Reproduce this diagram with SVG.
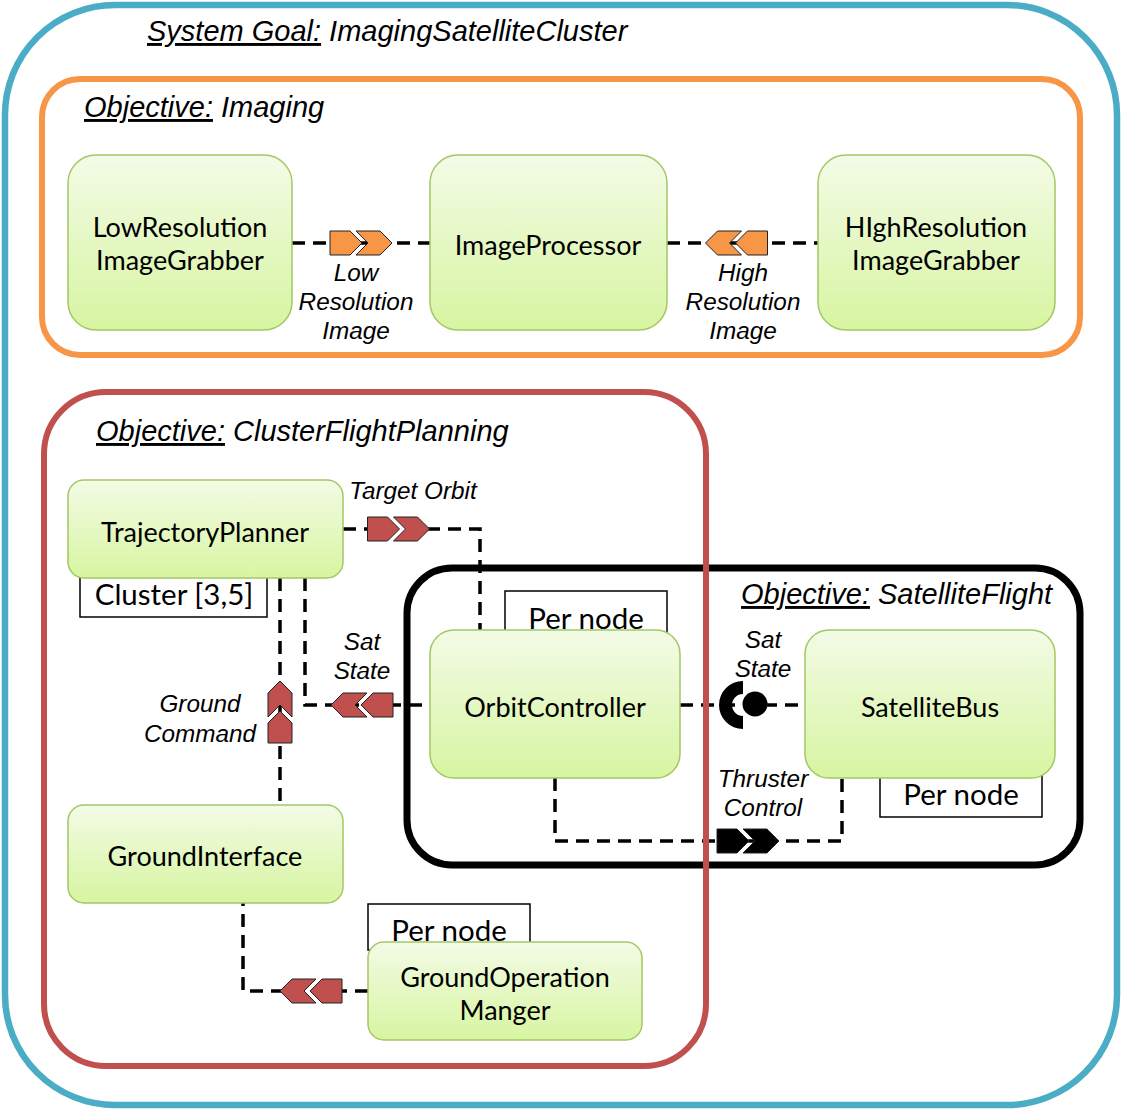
<svg xmlns="http://www.w3.org/2000/svg" xmlns:xlink="http://www.w3.org/1999/xlink" width="1123" height="1110" viewBox="0 0 1123 1110">
<style>
.box{fill:none}
.node rect{fill:url(#ng);stroke:#a3c865;stroke-width:1.5}
.nt{font-family:Lato,"Open Sans",sans-serif;font-size:27px;fill:#000;text-anchor:middle}
.title{font-family:"Liberation Sans",Arial,sans-serif;font-style:italic;font-size:29px;fill:#000}
.lbl{font-family:"Liberation Sans",Arial,sans-serif;font-style:italic;font-size:24.3px;fill:#000;text-anchor:middle}
.tag{fill:#fff;stroke:#000;stroke-width:1.5}
.tagt{font-family:Lato,"Open Sans",sans-serif;font-size:29.5px;fill:#000;text-anchor:middle}
.dash{fill:none;stroke:#000;stroke-width:3.5;stroke-dasharray:13 8}
.u{text-decoration:underline}
</style>
<defs>
<linearGradient id="ng" x1="0" y1="0" x2="0" y2="1">
<stop offset="0" stop-color="#f3fbe6"/>
<stop offset="1" stop-color="#d7f5a1"/>
</linearGradient>
<g id="chev" stroke="#222" stroke-width="1">
<path d="M-31,-12 H-11 L1,0 L-11,12 H-31 Z"/>
<path d="M-5,-12 H19 L31,0 L19,12 H-5 L7,0 Z"/>
</g>
</defs>
<rect width="1123" height="1110" fill="#fff"/>
<g id="goal-ImagingSatelliteCluster">
<rect class="box" x="5" y="5" width="1112" height="1100" rx="110" stroke="#4bacc6" stroke-width="6.5"/>
<text class="title" x="147" y="41"><tspan class="u">System Goal:</tspan> ImagingSatelliteCluster</text>
</g>
<g id="objective-Imaging">
<rect class="box" x="42" y="79" width="1038" height="276" rx="38" stroke="#f79646" stroke-width="6"/>
<text class="title" x="84" y="117"><tspan class="u">Objective:</tspan> Imaging</text>
</g>
<g id="objective-SatelliteFlight">
<rect class="box" x="407" y="568" width="673" height="297" rx="45" stroke="#000" stroke-width="7"/>
<text class="title" x="741" y="604"><tspan class="u">Objective:</tspan> SatelliteFlight</text>
</g>
<g id="connectors">
<path class="dash" d="M292,243 H430"/>
<use xlink:href="#chev" href="#chev" fill="#f79646" transform="translate(361,243)"/>
<text class="lbl" x="356" y="281">Low</text>
<text class="lbl" x="356" y="310">Resolution</text>
<text class="lbl" x="356" y="339">Image</text>

<path class="dash" d="M667,243 H818"/>
<use xlink:href="#chev" href="#chev" fill="#f79646" transform="translate(736.5,243) rotate(180)"/>
<text class="lbl" x="743" y="281">High</text>
<text class="lbl" x="743" y="310">Resolution</text>
<text class="lbl" x="743" y="339">Image</text>

<path class="dash" d="M343,529 H480 V630"/>
<use xlink:href="#chev" href="#chev" fill="#c0504d" transform="translate(398.5,529)"/>
<text class="lbl" x="413" y="499">Target Orbit</text>

<path class="dash" d="M305,578 V705 H430"/>
<use xlink:href="#chev" href="#chev" fill="#c0504d" transform="translate(362,705) rotate(180)"/>
<text class="lbl" x="362" y="650">Sat</text>
<text class="lbl" x="362" y="679">State</text>

<path class="dash" d="M280,578 V805"/>
<use xlink:href="#chev" href="#chev" fill="#c0504d" transform="translate(280,712) rotate(-90)"/>
<text class="lbl" x="200" y="712">Ground</text>
<text class="lbl" x="200" y="742">Command</text>

<path class="dash" d="M680,705 H805"/>
<path d="M743,681 A24,24 0 0 0 743,729 L743,716 A11,11 0 0 1 743,694 Z" fill="#000"/>
<circle cx="755" cy="704" r="12.5" fill="#000"/>
<text class="lbl" x="763" y="648">Sat</text>
<text class="lbl" x="763" y="677">State</text>

<path class="dash" d="M555,778 V841 H842 V778"/>
<use xlink:href="#chev" href="#chev" fill="#000" transform="translate(748,841)"/>
<text class="lbl" x="763" y="787">Thruster</text>
<text class="lbl" x="763" y="816">Control</text>

<path class="dash" d="M368,991 H243 V903"/>
<use xlink:href="#chev" href="#chev" fill="#c0504d" transform="translate(311,991) rotate(180)"/>
</g>
<g id="objective-ClusterFlightPlanning">
<rect class="box" x="44" y="392" width="662" height="674" rx="62" stroke="#c0504d" stroke-width="6"/>
<text class="title" x="96" y="441"><tspan class="u">Objective:</tspan> ClusterFlightPlanning</text>
</g>
<g id="tags">
<rect class="tag" x="80" y="570" width="187" height="47"/>
<text class="tagt" x="174" y="605">Cluster [3,5]</text>
<rect class="tag" x="505" y="591" width="162" height="50"/>
<text class="tagt" x="586" y="629">Per node</text>
<rect class="tag" x="880" y="770" width="162" height="47"/>
<text class="tagt" x="961" y="805">Per node</text>
<rect class="tag" x="368" y="904" width="162" height="46"/>
<text class="tagt" x="449" y="941">Per node</text>
</g>
<g id="LowResolutionImageGrabber" class="node">
<rect x="68" y="155" width="224" height="175" rx="28"/>
<text class="nt" x="180" y="237">LowResolution</text>
<text class="nt" x="180" y="270">ImageGrabber</text>
</g>
<g id="ImageProcessor" class="node">
<rect x="430" y="155" width="237" height="175" rx="28"/>
<text class="nt" x="548" y="255">ImageProcessor</text>
</g>
<g id="HIghResolutionImageGrabber" class="node">
<rect x="818" y="155" width="237" height="175" rx="28"/>
<text class="nt" x="936" y="237">HIghResolution</text>
<text class="nt" x="936" y="270">ImageGrabber</text>
</g>
<g id="TrajectoryPlanner" class="node">
<rect x="68" y="480" width="275" height="98" rx="16"/>
<text class="nt" x="205" y="542">TrajectoryPlanner</text>
</g>
<g id="OrbitController" class="node">
<rect x="430" y="630" width="250" height="148" rx="24"/>
<text class="nt" x="555" y="717">OrbitController</text>
</g>
<g id="SatelliteBus" class="node">
<rect x="805" y="630" width="250" height="148" rx="24"/>
<text class="nt" x="930" y="717">SatelliteBus</text>
</g>
<g id="GroundInterface" class="node">
<rect x="68" y="805" width="275" height="98" rx="16"/>
<text class="nt" x="205" y="866">GroundInterface</text>
</g>
<g id="GroundOperationManger" class="node">
<rect x="368" y="942" width="274" height="98" rx="16"/>
<text class="nt" x="505" y="987">GroundOperation</text>
<text class="nt" x="505" y="1020">Manger</text>
</g>
</svg>
